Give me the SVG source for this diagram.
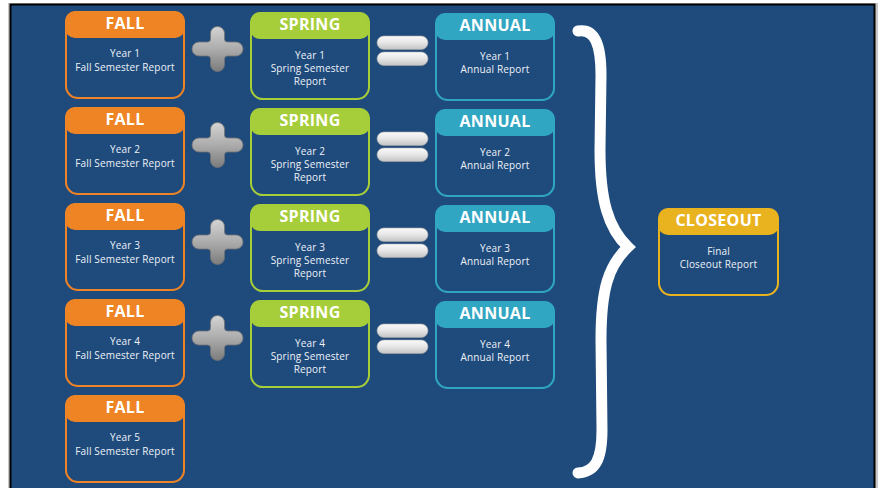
<svg xmlns="http://www.w3.org/2000/svg" width="882" height="488" viewBox="0 0 882 488">
<defs>
<linearGradient id="gPlus" x1="0" y1="0" x2="0" y2="1">
<stop offset="0" stop-color="#d4d4d4"/>
<stop offset="0.5" stop-color="#acacac"/>
<stop offset="1" stop-color="#7c7c7c"/>
</linearGradient>
<linearGradient id="gBar" x1="0" y1="0" x2="0" y2="1">
<stop offset="0" stop-color="#fafafa"/>
<stop offset="0.5" stop-color="#e6e6e6"/>
<stop offset="1" stop-color="#c4c4c4"/>
</linearGradient>
<path id="plus" d="M -18.5,-7 L -10,-7 Q -7,-7 -7,-10 L -7,-15.5 A 7 7 0 0 1 7,-15.5 L 7,-10 Q 7,-7 10,-7 L 18.5,-7 A 7 7 0 0 1 18.5,7 L 10,7 Q 7,7 7,10 L 7,15.5 A 7 7 0 0 1 -7,15.5 L -7,10 Q -7,7 -10,7 L -18.5,7 A 7 7 0 0 1 -18.5,-7 Z"/>
<g id="equals">
<rect x="0" y="0" width="51" height="13.5" rx="6.75"/>
<rect x="0" y="16" width="51" height="13.5" rx="6.75"/>
</g>
</defs>
<style>
.box{fill:none;stroke-width:2}
.fall .box{stroke:#ef8424}.fall .hd{fill:#ef8424}
.spring .box{stroke:#a6cd3a}.spring .hd{fill:#a6cd3a}
.annual .box{stroke:#31a6c2}.annual .hd{fill:#31a6c2}
.close .box{stroke:#e9b31f}.close .hd{fill:#e9b31f}
.title{font-family:"Open Sans","DejaVu Sans",sans-serif;font-weight:700;font-size:16px;letter-spacing:0.3px;fill:#ffffff;text-anchor:middle}
.body{font-family:"Open Sans","DejaVu Sans",sans-serif;font-size:10px;letter-spacing:0.15px;fill:#eef2f7;text-anchor:middle}
.plus{fill:url(#gPlus);stroke:#737373;stroke-width:0.8}
.eq{fill:url(#gBar);stroke:#a8a8a8;stroke-width:0.6}
.brace{fill:none;stroke:#ffffff;stroke-width:11;stroke-linecap:round;stroke-linejoin:miter;stroke-miterlimit:10}
</style>
<rect x="0" y="0" width="882" height="488" fill="#ffffff"/>
<rect x="8" y="3" width="870" height="500" fill="#c8c8c8"/>
<rect x="10.5" y="4.5" width="864" height="500" fill="#1f4a7c" stroke="#000000" stroke-width="2"/>

<g id="fall1" class="fall"><rect class="hd" x="65" y="11" width="120" height="27" rx="10"/><rect class="box" x="66" y="12" width="118" height="86" rx="12"/><text class="title" x="125" y="29">FALL</text><text class="body" x="125" y="57">Year 1</text><text class="body" x="125" y="70.5">Fall Semester Report</text></g>
<g id="fall2" class="fall"><rect class="hd" x="65" y="107" width="120" height="27" rx="10"/><rect class="box" x="66" y="108" width="118" height="86" rx="12"/><text class="title" x="125" y="125">FALL</text><text class="body" x="125" y="153">Year 2</text><text class="body" x="125" y="166.5">Fall Semester Report</text></g>
<g id="fall3" class="fall"><rect class="hd" x="65" y="203" width="120" height="27" rx="10"/><rect class="box" x="66" y="204" width="118" height="86" rx="12"/><text class="title" x="125" y="221">FALL</text><text class="body" x="125" y="249">Year 3</text><text class="body" x="125" y="262.5">Fall Semester Report</text></g>
<g id="fall4" class="fall"><rect class="hd" x="65" y="299" width="120" height="27" rx="10"/><rect class="box" x="66" y="300" width="118" height="86" rx="12"/><text class="title" x="125" y="317">FALL</text><text class="body" x="125" y="345">Year 4</text><text class="body" x="125" y="358.5">Fall Semester Report</text></g>
<g id="fall5" class="fall"><rect class="hd" x="65" y="395" width="120" height="27" rx="10"/><rect class="box" x="66" y="396" width="118" height="86" rx="12"/><text class="title" x="125" y="413">FALL</text><text class="body" x="125" y="441">Year 5</text><text class="body" x="125" y="454.5">Fall Semester Report</text></g>

<g id="spring1" class="spring"><rect class="hd" x="250" y="12" width="120" height="27" rx="10"/><rect class="box" x="251" y="13" width="118" height="86" rx="12"/><text class="title" x="310" y="30">SPRING</text><text class="body" x="310" y="59">Year 1</text><text class="body" x="310" y="72">Spring Semester</text><text class="body" x="310" y="85">Report</text></g>
<g id="spring2" class="spring"><rect class="hd" x="250" y="108" width="120" height="27" rx="10"/><rect class="box" x="251" y="109" width="118" height="86" rx="12"/><text class="title" x="310" y="126">SPRING</text><text class="body" x="310" y="155">Year 2</text><text class="body" x="310" y="168">Spring Semester</text><text class="body" x="310" y="181">Report</text></g>
<g id="spring3" class="spring"><rect class="hd" x="250" y="204" width="120" height="27" rx="10"/><rect class="box" x="251" y="205" width="118" height="86" rx="12"/><text class="title" x="310" y="222">SPRING</text><text class="body" x="310" y="251">Year 3</text><text class="body" x="310" y="264">Spring Semester</text><text class="body" x="310" y="277">Report</text></g>
<g id="spring4" class="spring"><rect class="hd" x="250" y="300" width="120" height="27" rx="10"/><rect class="box" x="251" y="301" width="118" height="86" rx="12"/><text class="title" x="310" y="318">SPRING</text><text class="body" x="310" y="347">Year 4</text><text class="body" x="310" y="360">Spring Semester</text><text class="body" x="310" y="373">Report</text></g>

<g id="annual1" class="annual"><rect class="hd" x="435" y="13" width="120" height="27" rx="10"/><rect class="box" x="436" y="14" width="118" height="86" rx="12"/><text class="title" x="495" y="31">ANNUAL</text><text class="body" x="495" y="60">Year 1</text><text class="body" x="495" y="73">Annual Report</text></g>
<g id="annual2" class="annual"><rect class="hd" x="435" y="109" width="120" height="27" rx="10"/><rect class="box" x="436" y="110" width="118" height="86" rx="12"/><text class="title" x="495" y="127">ANNUAL</text><text class="body" x="495" y="156">Year 2</text><text class="body" x="495" y="169">Annual Report</text></g>
<g id="annual3" class="annual"><rect class="hd" x="435" y="205" width="120" height="27" rx="10"/><rect class="box" x="436" y="206" width="118" height="86" rx="12"/><text class="title" x="495" y="223">ANNUAL</text><text class="body" x="495" y="252">Year 3</text><text class="body" x="495" y="265">Annual Report</text></g>
<g id="annual4" class="annual"><rect class="hd" x="435" y="301" width="120" height="27" rx="10"/><rect class="box" x="436" y="302" width="118" height="86" rx="12"/><text class="title" x="495" y="319">ANNUAL</text><text class="body" x="495" y="348">Year 4</text><text class="body" x="495" y="361">Annual Report</text></g>

<g id="closeout" class="close"><rect class="hd" x="658" y="208" width="121" height="27" rx="10"/><rect class="box" x="659" y="209" width="119" height="86" rx="12"/><text class="title" x="718.5" y="226">CLOSEOUT</text><text class="body" x="718.5" y="255">Final</text><text class="body" x="718.5" y="268">Closeout Report</text></g>

<g id="connectors">
<use href="#plus" class="plus" transform="translate(217.5,49)"/>
<use href="#plus" class="plus" transform="translate(217.5,145)"/>
<use href="#plus" class="plus" transform="translate(217.5,242)"/>
<use href="#plus" class="plus" transform="translate(217.5,338)"/>
<use href="#equals" class="eq" transform="translate(377,36)"/>
<use href="#equals" class="eq" transform="translate(377,132)"/>
<use href="#equals" class="eq" transform="translate(377,228)"/>
<use href="#equals" class="eq" transform="translate(377,324)"/>
<path class="brace" d="M 578,31 C 595,28 601,45 601,75 L 600,150 C 600,200 608,228 628,247 C 608,266 601,290 601,340 L 602,430 C 602,460 595,472 578,473"/>
</g>
</svg>
